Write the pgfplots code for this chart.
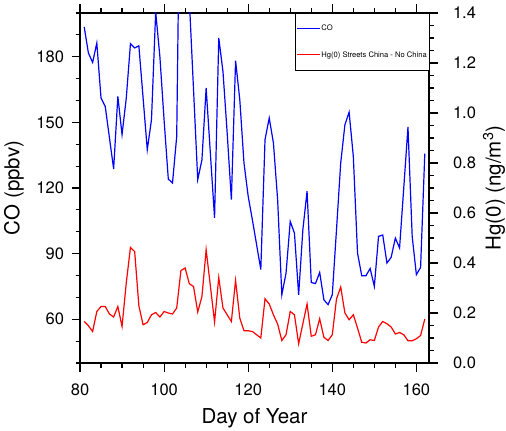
\documentclass[border=0pt]{standalone}
\usepackage{fontspec}
\setmainfont{TeX Gyre Heros}
\usepackage{pgfplots}
\pgfplotsset{compat=1.18}
\usepackage{pgfplotstable}

% Daily means, days 81-162
\pgfplotstableread{
day co
81 193.6
82 181.7
83 177.4
84 186.3
85 161.1
86 157.3
87 143.0
88 128.7
89 161.9
90 144.4
91 161.0
92 186.0
93 184.0
94 185.0
95 161.3
96 137.5
97 151.2
98 200.5
99 180.0
100 151.0
101 124.1
102 122.3
103 143.6
104 300.0
105 260.0
106 206.0
107 165.0
108 123.8
109 132.9
110 165.7
111 136.0
112 106.3
113 188.6
114 173.3
115 145.2
116 114.7
117 178.2
118 160.4
119 131.4
120 116.2
121 105.4
122 94.1
123 82.7
124 142.1
125 152.0
126 140.6
127 114.7
128 71.2
129 81.1
130 104.7
131 99.4
132 71.2
133 100.9
134 118.5
135 76.8
136 76.3
137 81.4
138 68.9
139 66.7
140 71.2
141 100.9
142 131.4
143 148.9
144 154.7
145 134.5
146 90.3
147 79.9
148 79.9
149 83.2
150 75.0
151 97.9
152 98.5
153 85.7
154 88.3
155 97.1
156 92.6
157 120.1
158 147.9
159 97.9
160 80.4
161 83.7
162 135.7
}\codata

\pgfplotstableread{
day hg
81 0.166
82 0.149
83 0.126
84 0.206
85 0.226
86 0.226
87 0.196
88 0.184
89 0.226
90 0.146
91 0.320
92 0.462
93 0.446
94 0.229
95 0.153
96 0.162
97 0.193
98 0.202
99 0.184
100 0.206
101 0.200
102 0.196
103 0.220
104 0.370
105 0.380
106 0.317
107 0.306
108 0.204
109 0.266
110 0.453
111 0.309
112 0.164
113 0.342
114 0.220
115 0.193
116 0.166
117 0.330
118 0.180
119 0.129
120 0.129
121 0.126
122 0.113
123 0.100
124 0.257
125 0.236
126 0.193
127 0.156
128 0.090
129 0.113
130 0.206
131 0.193
132 0.077
133 0.157
134 0.236
135 0.107
136 0.113
137 0.177
138 0.103
139 0.090
140 0.113
141 0.256
142 0.304
143 0.200
144 0.173
145 0.193
146 0.140
147 0.083
148 0.080
149 0.093
150 0.090
151 0.144
152 0.166
153 0.157
154 0.144
155 0.116
156 0.122
157 0.113
158 0.089
159 0.089
160 0.097
161 0.110
162 0.176
}\hgdata

\pgfplotsset{
  common/.style={
    scale only axis, width=349pt, height=350pt,
    xmin=80, xmax=163,
    major tick length=8.5pt, minor tick length=4.5pt,
    axis line style={line width=1.1pt, black},
    every tick/.append style={line width=1.1pt, black},
    tick label style={font=\fontsize{16.5}{19}\selectfont},
    label style={font=\fontsize{20.5}{24}\selectfont},
    /pgf/number format/assume math mode=true,
  },
  coleg/.style={legend image code/.code={\draw[blue, line width=1pt] (0pt,0pt) -- (23pt,0pt);}},
  hgleg/.style={legend image code/.code={\draw[red, line width=1pt] (0pt,0pt) -- (23pt,0pt);}},
}

\begin{document}
\begin{tikzpicture}
% Left axis: CO
\begin{axis}[
  common,
  name=main,
  ymin=40, ymax=200,
  xtick={80,100,...,160}, minor xtick={80,85,...,160},
  ytick={60,90,...,180}, minor ytick={40,50,...,200},
  ytick pos=left,
  tick align=outside,
  xticklabel style={yshift=-9pt},
  yticklabel style={xshift=-4pt},
  xlabel={Day of Year}, ylabel={CO (ppbv)},
  xlabel style={at={(axis description cs:0.5,-0.158)}, anchor=center},
  ylabel style={at={(axis description cs:-0.189,0.5)}, anchor=center},
]
\addplot[blue, line width=1.2pt] table[x=day, y=co] {\codata};
\end{axis}
% Right axis: Hg(0)
\begin{axis}[
  common,
  ymin=0, ymax=1.4,
  axis y line*=right, axis x line=none,
  tick align=outside,
  ytick={0,0.2,0.4,0.6,0.8,1.0,1.2,1.4},
  minor ytick={0.05,0.1,0.15,0.25,0.3,0.35,0.45,0.5,0.55,0.65,0.7,0.75,0.85,0.9,0.95,1.05,1.1,1.15,1.25,1.3,1.35},
  yticklabel style={xshift=12pt, /pgf/number format/.cd, fixed, fixed zerofill, precision=1},
  ylabel={Hg(0) (ng/m\textsuperscript{3})},
  ylabel style={at={(axis description cs:1.186,0.5)}, anchor=center},
  legend style={at={(1,1)}, anchor=north east,
    font=\fontsize{7.6}{9}\selectfont, inner xsep=1.5pt, inner ysep=10pt,
    row sep=15pt, /tikz/column sep=0pt,
    nodes={inner xsep=0.5pt, inner ysep=2pt}},
  legend cell align=left,
]
\addlegendimage{coleg}
\addlegendentry{CO}
\addplot[red, line width=1.2pt, hgleg] table[x=day, y=hg] {\hgdata};
\addlegendentry{Hg(0) Streets China - No China}
\end{axis}
\pgfresetboundingbox
\path[use as bounding box] ([xshift=-80pt,yshift=-67pt]main.south west) rectangle ([xshift=77pt,yshift=13pt]main.north east);
\end{tikzpicture}
\end{document}
